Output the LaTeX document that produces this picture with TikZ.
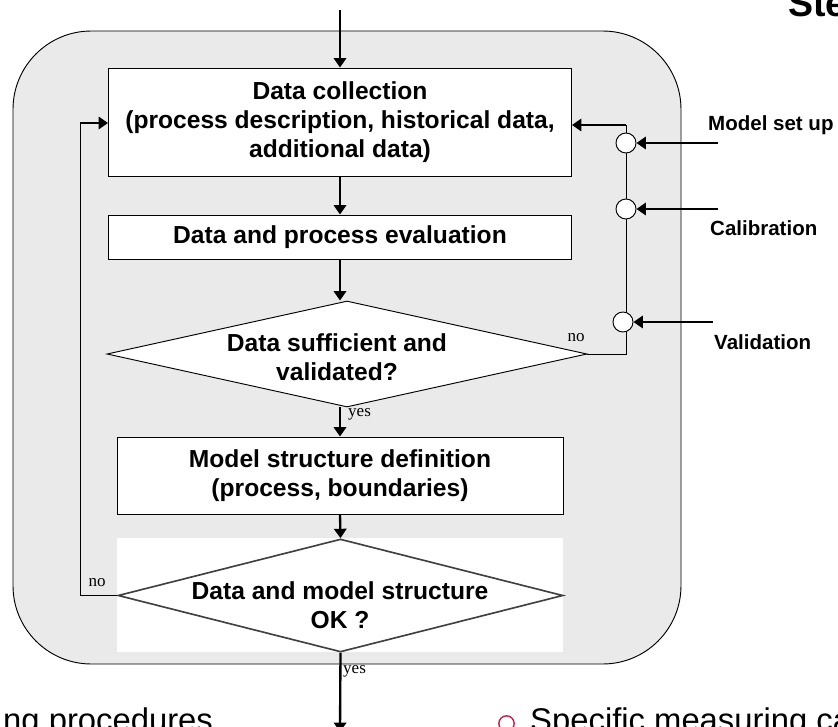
\documentclass[tikz,border=0pt]{standalone}
\usepackage{fontspec}
\setmainfont{Liberation Serif}
\setsansfont{Liberation Sans}
\usetikzlibrary{arrows.meta,shapes.geometric}
\definecolor{panelgrey}{HTML}{EAEAEA}
\definecolor{edgegrey}{HTML}{404040}
\definecolor{bulletred}{HTML}{C0204A}

\begin{document}
\begin{tikzpicture}[
    x=0.03cm, y=-0.03cm,
    flow/.style={-{Triangle[length=8pt, width=10.5pt]}, line width=2pt},
    thinline/.style={line width=0.8pt},
    stepbox/.style={rectangle, draw, line width=0.8pt, fill=white, inner sep=0pt, align=center, font=\sffamily\bfseries\fontsize{21}{25}\selectfont},
    decision/.style={diamond, draw, fill=white, inner sep=0pt},
    decisiontext/.style={align=center, inner sep=0pt, font=\sffamily\bfseries\fontsize{21}{25}\selectfont},
    gate/.style={circle, draw, line width=0.8pt, fill=white, minimum size=0.6cm, inner sep=0pt},
    sidelabel/.style={font=\sffamily\bfseries\fontsize{17.5}{20}\selectfont, inner sep=0pt},
    answer/.style={font=\rmfamily\fontsize{14.5}{16}\selectfont, inner sep=0pt},
    slidetext/.style={font=\sffamily\fontsize{28}{32}\selectfont, inner sep=0pt, anchor=base west}
]
\useasboundingbox (0,0) rectangle (838,727);
\clip (0,0) rectangle (838,727);

% Grey panel
\draw[thinline, fill=panelgrey, rounded corners=2.35cm] (13,31) rectangle (681,664);
\fill[white] (117,538) rectangle (563,652);

% Steps
\node[stepbox, minimum width=13.89cm, minimum height=3.24cm] (collect) at (340,122)
    {Data collection\\(process description, historical data,\\additional data)};
\node[stepbox, minimum width=13.89cm, minimum height=1.32cm] (evaluate) at (340,237)
    {Data and process evaluation};
\node[decision, thinline, minimum width=14.4cm, minimum height=3.18cm] (check) at (347,354) {};
\node[decisiontext] (checktext) at (337,357) {Data sufficient and\\validated?};
\node[stepbox, minimum width=13.38cm, minimum height=2.31cm] (structure) at (340,475.5)
    {Model structure definition\\(process, boundaries)};
\node[decision, draw=edgegrey, line width=1.4pt, minimum width=13.35cm, minimum height=3.39cm] (final) at (340.5,595.5) {};
\node[decisiontext] (finaltext) at (340,605) {Data and model structure\\OK ?};

% Main flow
\coordinate (entry) at (340,10);
\coordinate (exit) at (340,732);
\draw[flow] (entry) -- (entry |- collect.north);
\draw[flow] (collect.south) -- (evaluate.north);
\draw[flow] (evaluate.south) -- (evaluate.south |- check.north);
\draw[flow] (structure.north |- check.south) -- (structure.north);
\draw[flow] (structure.south) -- (final.north);
\draw[flow] (final.south) -- (exit);
\node[answer, anchor=north west] (yes1) at (348,408) {yes};
\node[answer, anchor=north west] (yes2) at (343,665) {yes};

% Feedback on the right
\coordinate (bus) at (626,125);
\draw[thinline] (check.east) -- (check.east -| bus) -- (bus);
\draw[flow] (bus) -- (collect.east |- bus);
\node[answer, anchor=south] (no1) at (576,342) {no};
\node[gate] (setup) at (626,143) {};
\node[gate] (calib) at (626,209) {};
\node[gate] (valid) at (623,322) {};
\coordinate (setupin) at (718,143);
\coordinate (calibin) at (718,209);
\coordinate (validin) at (713,322);
\draw[flow] (setupin) -- (setup.east);
\draw[flow] (calibin) -- (calib.east);
\draw[flow] (validin) -- (valid.east);
\node[sidelabel, anchor=west] (setuplabel) at (708,125) {Model set up};
\node[sidelabel, anchor=west] (caliblabel) at (710,228) {Calibration};
\node[sidelabel, anchor=west] (validlabel) at (714,342) {Validation};

% Feedback on the left
\coordinate (loop) at (80,123);
\draw[thinline] (final.west) -- (final.west -| loop) -- (loop);
\draw[flow] (loop) -- (collect.west |- loop);
\node[answer, anchor=south] (no2) at (97,587) {no};

% Slide text around
\node[font=\sffamily\bfseries\fontsize{32}{36}\selectfont, inner sep=0pt, anchor=base west] (title) at (788,17) {Ste};
\node[slidetext] (lefttext) at (3,731) {ng procedures};
\node[circle, draw=bulletred, line width=1.2pt, minimum size=0.46cm, inner sep=0pt] (bullet) at (506.5,723.5) {};
\node[slidetext] (righttext) at (530,731) {Specific measuring ca};
\end{tikzpicture}
\end{document}
